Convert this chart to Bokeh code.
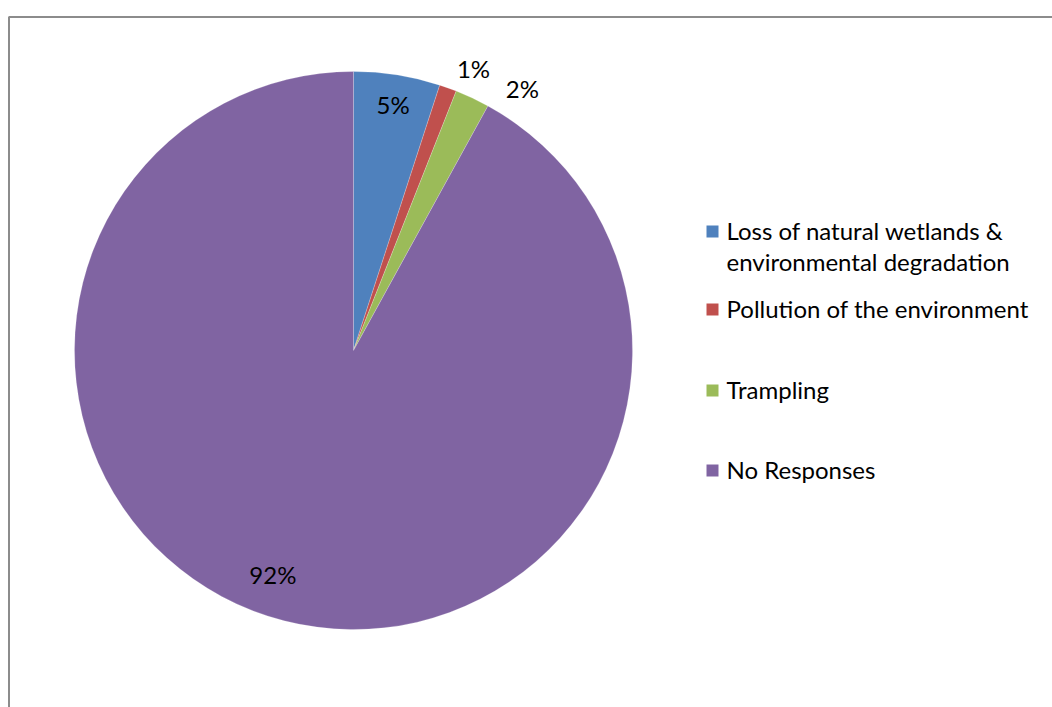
import math

from bokeh.core.properties import value
from bokeh.embed import file_html
from bokeh.models import ColumnDataSource
from bokeh.plotting import figure
from bokeh.resources import INLINE

# Survey responses: perceived threats (percent of respondents)
categories = [
    "Loss of natural wetlands &\nenvironmental degradation",
    "Pollution of the environment",
    "Trampling",
    "No Responses",
]
percents = [5, 1, 2, 92]
colors = ["#4F81BD", "#C0504D", "#9BBB59", "#8064A2"]

W, H = 1052, 707
FONT = "Lato"
FONT_SIZE = "24px"

# pie geometry in pixel-like data units (y grows upward)
cx, cy, R = 353, H - 350, 279

total = float(sum(percents))
starts, ends, mids = [], [], []
acc = 0.0
for v in percents:
    a0 = math.pi / 2 - 2 * math.pi * acc / total
    acc += v
    a1 = math.pi / 2 - 2 * math.pi * acc / total
    starts.append(a1)
    ends.append(a0)
    mids.append((a0 + a1) / 2)

p = figure(
    width=W, height=H,
    x_range=(0, W), y_range=(0, H),
    output_backend="svg", toolbar_location=None,
    min_border=0,
)
p.axis.visible = False
p.grid.visible = False
p.outline_line_color = None
p.background_fill_color = "white"
p.border_fill_color = "white"

src = ColumnDataSource(dict(
    start=starts, end=ends, color=colors, cat=categories, pct=percents,
))
p.wedge(x=cx, y=cy, radius=R, start_angle="start", end_angle="end",
        direction="anticlock", fill_color="color", line_color="white",
        line_width=0.5, line_alpha=0.4, source=src)

# data labels: inside for the large slices, just outside for the thin ones
label_r = [0.886, 1.09, 1.11, 0.86]
dx = [1, 17, 37, -21]
dy = [2, -4, -18, 8]
lx = [cx + R * rf * math.cos(m) + ox for rf, m, ox in zip(label_r, mids, dx)]
ly = [cy + R * rf * math.sin(m) + oy for rf, m, oy in zip(label_r, mids, dy)]
p.text(x=lx, y=ly, text=[f"{v}%" for v in percents],
       text_font=value(FONT), text_font_size=FONT_SIZE,
       text_align="center", text_baseline="middle", text_color="black")

# legend drawn by hand so the first entry can wrap onto two lines
key_y = [H - 231, H - 309, H - 390, H - 470]
p.rect(x=[712] * 4, y=key_y, width=12, height=12,
       fill_color=colors, line_color=None)
p.text(x=[726] * 4, y=[k + 16 for k in key_y], text=categories,
       text_font=value(FONT), text_font_size=FONT_SIZE,
       text_align="left", text_baseline="top", text_color="black",
       text_line_height=1.1)

# chart frame
p.line(x=[8.5, 8.5, W + 10], y=[-10, H - 16.5, H - 16.5],
       line_color="#8c8c8c", line_width=2)

open("out.html", "w").write(file_html(p, INLINE))
